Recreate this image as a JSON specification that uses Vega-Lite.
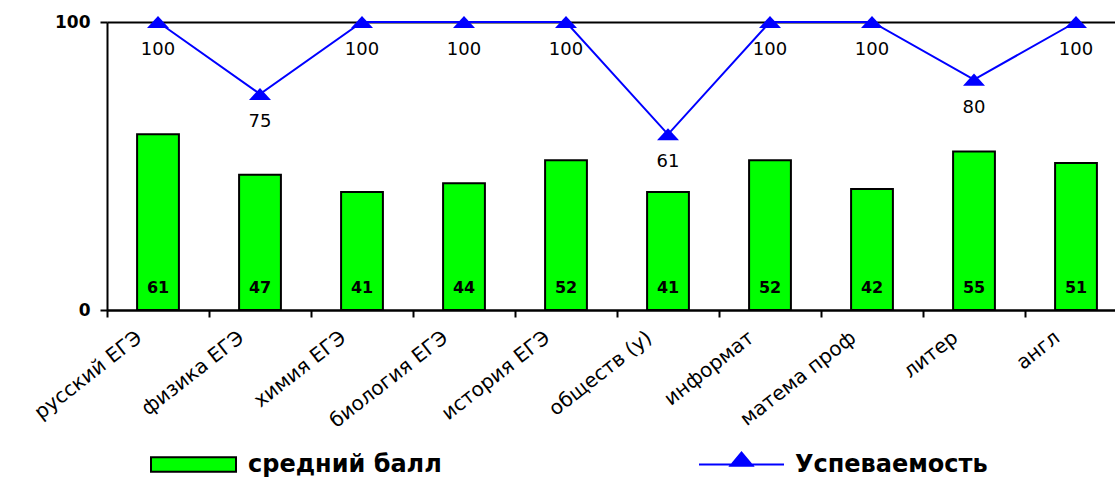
{
  "$schema": "https://vega.github.io/schema/vega-lite/v6.json",
  "autosize": {"type": "none"},
  "padding": {"left": 107, "top": 22, "right": 0, "bottom": 167},
  "width": 1008,
  "height": 288,
  "background": "white",
  "config": {
    "view": {"stroke": null},
    "font": "DejaVu Sans"
  },
  "data": {
    "values": [
      {"subj": "русский ЕГЭ", "score": 61, "pass": 100},
      {"subj": "физика ЕГЭ", "score": 47, "pass": 75},
      {"subj": "химия ЕГЭ", "score": 41, "pass": 100},
      {"subj": "биология ЕГЭ", "score": 44, "pass": 100},
      {"subj": "история ЕГЭ", "score": 52, "pass": 100},
      {"subj": "обществ (у)", "score": 41, "pass": 61},
      {"subj": "информат", "score": 52, "pass": 100},
      {"subj": "матема проф", "score": 42, "pass": 100},
      {"subj": "литер", "score": 55, "pass": 80},
      {"subj": "англ", "score": 51, "pass": 100}
    ]
  },
  "encoding": {
    "x": {
      "field": "subj",
      "type": "nominal",
      "sort": null,
      "scale": {"range": [0, 1020], "paddingInner": 0, "paddingOuter": 0},
      "axis": {
        "title": null,
        "domainColor": "black",
        "domainWidth": 2,
        "tickColor": "black",
        "tickWidth": 2,
        "tickSize": 7,
        "tickBand": "extent",
        "labelAngle": -38,
        "labelAlign": "right",
        "labelBaseline": "middle",
        "labelPadding": 18,
        "labelOffset": -19,
        "labelFontSize": 20,
        "labelColor": "black",
        "labelFont": "DejaVu Sans",
        "labelLimit": 0
      }
    }
  },
  "layer": [
    {
      "mark": {"type": "bar", "width": {"band": 0.41}, "stroke": "black", "strokeWidth": 2},
      "encoding": {
        "y": {
          "field": "score",
          "type": "quantitative",
          "scale": {"domain": [0, 100], "nice": false},
          "axis": {
            "title": null,
            "values": [0, 100],
            "domainColor": "black",
            "domainWidth": 2,
            "tickColor": "black",
            "tickWidth": 2,
            "tickSize": 7,
            "grid": true,
            "gridColor": "black",
            "gridWidth": 2,
            "labelFont": "DejaVu Sans",
            "labelFontWeight": "bold",
            "labelFontSize": 17,
            "labelColor": "black",
            "labelPadding": 10
          }
        },
        "fill": {
          "datum": "средний балл",
          "scale": {"domain": ["средний балл"], "range": ["#00FF00"]},
          "legend": {
            "orient": "none",
            "legendX": 43,
            "legendY": 399,
            "padding": 0,
            "title": null,
            "symbolType": "M-1,-0.17H1V0.17H-1Z",
            "symbolSize": 7225,
            "symbolStrokeColor": "black",
            "symbolStrokeWidth": 2,
            "symbolOpacity": 1,
            "labelFont": "DejaVu Sans",
            "labelFontWeight": "bold",
            "labelFontSize": 24,
            "labelColor": "black",
            "labelOffset": 11,
            "labelLimit": 0
          }
        }
      }
    },
    {
      "mark": {"type": "text", "font": "DejaVu Sans", "fontWeight": "bold", "fontSize": 16, "color": "black", "baseline": "middle", "dy": -22},
      "encoding": {
        "y": {"datum": 0, "type": "quantitative"},
        "text": {"field": "score", "type": "quantitative"}
      }
    },
    {
      "mark": {"type": "line", "strokeWidth": 2},
      "encoding": {
        "y": {"field": "pass", "type": "quantitative"},
        "stroke": {
          "datum": "Успеваемость",
          "scale": {"domain": ["Успеваемость"], "range": ["#0000FF"]},
          "legend": {
            "orient": "none",
            "legendX": 591,
            "legendY": 399,
            "padding": 0,
            "title": null,
            "symbolType": "M-1,0H1M-0.26,0.03L0,-0.28L0.26,0.03Z",
            "symbolSize": 7225,
            "symbolFillColor": "#0000FF",
            "symbolStrokeWidth": 2,
            "labelFont": "DejaVu Sans",
            "labelFontWeight": "bold",
            "labelFontSize": 24,
            "labelColor": "black",
            "labelOffset": 10,
            "labelLimit": 0
          }
        }
      }
    },
    {
      "mark": {"type": "point", "shape": "M-1,0.55L0,-0.55L1,0.55Z", "filled": true, "size": 484, "color": "#0000FF", "opacity": 1},
      "encoding": {
        "y": {"field": "pass", "type": "quantitative"}
      }
    },
    {
      "mark": {"type": "text", "font": "DejaVu Sans", "fontSize": 18, "color": "black", "baseline": "middle", "dy": 28},
      "encoding": {
        "y": {"field": "pass", "type": "quantitative"},
        "text": {"field": "pass", "type": "quantitative"}
      }
    }
  ]
}
